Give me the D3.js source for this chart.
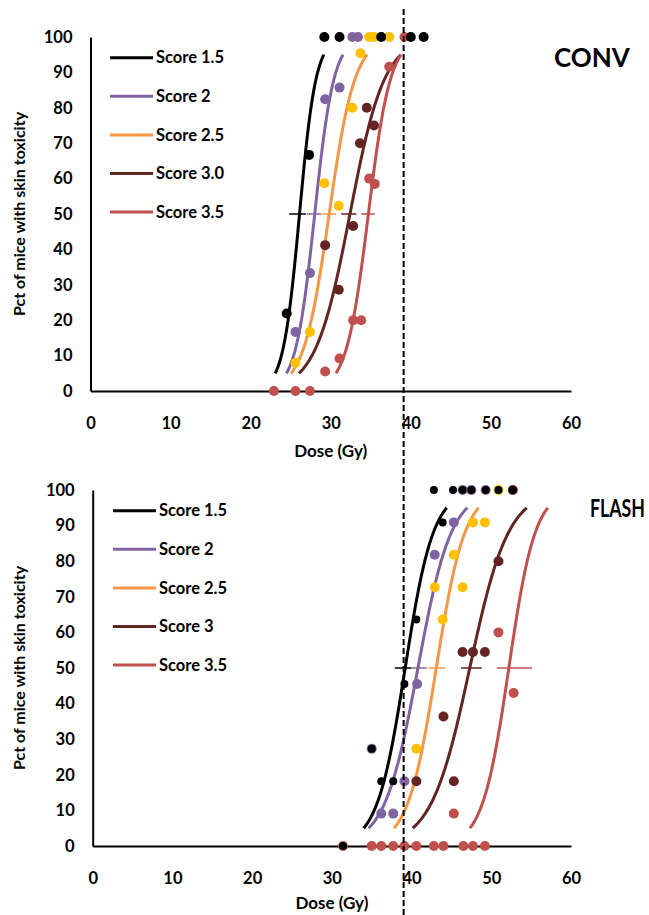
<!DOCTYPE html>
<html><head><meta charset="utf-8">
<script src="https://cdn.jsdelivr.net/npm/d3@7"></script>
<style>
body{margin:0;background:#fff;}
svg{display:block;}
text{font-family:Lato,"Open Sans",sans-serif;font-weight:700;fill:#000;}
</style>
</head><body>
<svg id="chart" width="649" height="915"></svg>
<script>
// ---------- data ----------
const convLabels  = ["Score 1.5","Score 2","Score 2.5","Score 3.0","Score 3.5"];
const flashLabels = ["Score 1.5","Score 2","Score 2.5","Score 3","Score 3.5"];
const lineColors  = ["#000000","#8064A2","#F79646","#632523","#C0504D"];
const pointColors = ["#000000","#8064A2","#FFC000","#632523","#C0504D"];
const xTicks = [0,10,20,30,40,50,60];
const yTicks = [0,10,20,30,40,50,60,70,80,90,100];
const referenceDose = 39.1;

// fitted dose-response (ED50 in Gy, logistic slope in Gy), drawn 5%..95%
const convED50   = [26.1, 28.0, 29.8, 32.4, 34.7];
const convSlope  = [1.03, 1.20, 1.61, 2.16, 1.38];
const convCILow  = [24.8, 27.0, 28.9, 31.3, 33.8];
const convCIHigh = [26.9, 28.8, 30.7, 33.2, 35.5];

const flashED50   = [39.2, 40.8, 43.1, 47.3, 52.2];
const flashSlope  = [1.77, 2.10, 1.80, 2.43, 1.66];
const flashCILow  = [37.9, 40.0, 42.1, 46.2, 50.7];
const flashCIHigh = [40.0, 41.9, 44.2, 48.8, 55.1];

// observed points [dose Gy, pct]
const convScore15 = [[29.2,100],[31.1,100],[36.3,100],[40.0,100],[41.6,100],[27.3,66.7],[24.5,21.9]];
const convScore2  = [[32.7,100],[33.4,100],[31.1,85.7],[29.3,82.4],[27.4,33.3],[25.6,16.7]];
const convScore25 = [[34.8,100],[35.4,100],[37.3,100],[33.7,95.4],[32.7,80],[29.2,58.7],[31.0,52.3],[27.4,16.7],[25.6,8]];
const convScore3  = [[34.5,80],[35.4,75],[33.65,70],[32.8,46.6],[29.3,41.2],[31.0,28.6]];
const convScore35 = [[39.2,100],[37.3,91.6],[34.8,60],[35.5,58.5],[32.8,20],[33.8,20],[31.1,9.2],[29.3,5.5],[22.9,0],[25.6,0],[27.4,0]];

const flashScore15 = [[42.8,100],[45.2,100],[46.4,100],[47.5,100],[49.3,100],[50.9,100],[52.7,100],[43.9,90.9],[40.6,63.6],[39.1,45.5],[35.0,27.3],[36.2,18.2],[37.7,18.2],[31.4,0]];
const flashScore2  = [[46.4,100],[47.5,100],[49.3,100],[45.3,90.9],[42.9,81.8],[40.7,45.5],[35.0,27.3],[39.1,18.2],[36.2,9.1],[37.7,9.1]];
const flashScore25 = [[50.9,100],[47.7,90.9],[49.2,90.9],[45.3,81.8],[42.9,72.7],[46.4,72.7],[43.9,63.6],[40.6,27.3]];
const flashScore3  = [[52.7,100],[50.9,80],[46.4,54.5],[47.7,54.5],[49.2,54.5],[44.0,36.4],[40.6,18.2],[45.3,18.2]];
const flashScore35 = [[50.9,60],[52.8,43],[45.3,9.1],[31.4,0],[35.0,0],[36.2,0],[37.7,0],[39.1,0],[40.6,0],[42.8,0],[44.0,0],[46.5,0],[47.7,0],[49.2,0]];

const convPoints  = [convScore15, convScore2, convScore25, convScore3, convScore35];
const flashPoints = [flashScore15, flashScore2, flashScore25, flashScore3, flashScore35];

// ---------- drawing ----------
const svg = d3.select("#chart");

function panel(cfg){
  const x = d3.scaleLinear().domain([0,60]).range(cfg.xr);
  const y = d3.scaleLinear().domain([0,100]).range(cfg.yr);
  const g = svg.append("g");

  // axes
  const ya = g.append("g").attr("transform",`translate(${cfg.xr[0]},0)`)
    .call(d3.axisLeft(y).tickValues(yTicks).tickSize(0).tickPadding(18));
  ya.select(".domain").attr("stroke","#000").attr("stroke-width",2);
  ya.selectAll("text").style("font-size","16.5px").style("font-family","Lato,sans-serif").style("font-weight","700");

  const xa = g.append("g").attr("transform",`translate(0,${cfg.yr[0]})`)
    .call(d3.axisBottom(x).tickValues(xTicks).tickSize(0).tickPadding(26));
  xa.select(".domain").attr("stroke","#000").attr("stroke-width",2);
  xa.selectAll("text").style("font-size","16.5px").style("font-family","Lato,sans-serif").style("font-weight","700");

  // axis titles
  g.append("text").attr("x",(cfg.xr[0]+cfg.xr[1])/2).attr("y",cfg.yr[0]+cfg.xTitleOff)
    .attr("text-anchor","middle").style("font-size","17px").text("Dose (Gy)");
  g.append("text").attr("transform",`translate(${25},${(cfg.yr[0]+cfg.yr[1])/2}) rotate(-90)`)
    .attr("text-anchor","middle").style("font-size","16px").text("Pct of mice with skin toxicity");

  // fitted curves
  const pcts = d3.range(5,95.01,0.5);
  const line = d3.line().x(d=>x(d[0])).y(d=>y(d[1]));
  cfg.ed50.forEach((e,i)=>{
    const pts = pcts.map(p=>[e + cfg.slope[i]*Math.log(p/(100-p)), p]);
    g.append("path").datum(pts).attr("d",line)
      .attr("fill","none").attr("stroke",lineColors[i]).attr("stroke-width",3);
  });

  // ED50 error bars
  cfg.ciLow.forEach((lo,i)=>{
    g.append("line").attr("x1",x(lo)).attr("x2",x(cfg.ciHigh[i]))
      .attr("y1",y(50)).attr("y2",y(50))
      .attr("stroke",lineColors[i]).attr("stroke-width",1.5);
  });

  // points (score 1.5 drawn last, on top)
  for(let i=cfg.points.length-1;i>=0;i--){
    g.append("g").selectAll("circle").data(cfg.points[i]).join("circle")
      .attr("cx",d=>x(d[0])).attr("cy",d=>y(d[1]))
      .attr("r", i===0 ? cfg.rBlack : 5)
      .attr("fill",pointColors[i]);
  }

  // legend
  const lg = g.append("g");
  cfg.labels.forEach((lab,i)=>{
    const ly = cfg.legendY + i*38.6;
    lg.append("line").attr("x1",cfg.legendX).attr("x2",cfg.legendX+43)
      .attr("y1",ly).attr("y2",ly).attr("stroke",lineColors[i]).attr("stroke-width",3);
    lg.append("text").attr("x",cfg.legendX+46).attr("y",ly).attr("dy","0.35em")
      .style("font-size","16.5px").text(lab);
  });

  // panel title (horizontally condensed like the original narrow bold face)
  g.append("text")
    .attr("transform",`translate(${cfg.titleX},${cfg.titleY}) scale(${cfg.titleSx},1)`)
    .style("font-size",cfg.titleSize).text(cfg.title);
  return x;
}

const xTop = panel({xr:[90.5,571], yr:[391,37], ed50:convED50, slope:convSlope,
  ciLow:convCILow, ciHigh:convCIHigh, points:convPoints, labels:convLabels,
  legendX:110, legendY:57.7, title:"CONV", titleX:554, titleY:66.5, titleSx:1, titleSize:"26px", rBlack:5, xTitleOff:66});

panel({xr:[92.7,571], yr:[846,490], ed50:flashED50, slope:flashSlope,
  ciLow:flashCILow, ciHigh:flashCIHigh, points:flashPoints, labels:flashLabels,
  legendX:113, legendY:510.7, title:"FLASH", titleX:590, titleY:517, titleSx:0.74, titleSize:"24px", rBlack:4, xTitleOff:63});

// reference dose dashed line across both panels
svg.append("line").attr("x1",xTop(referenceDose)).attr("x2",xTop(referenceDose))
  .attr("y1",9).attr("y2",915).attr("stroke","#000").attr("stroke-width",2)
  .attr("stroke-dasharray","6,3");
</script>
</body></html>
